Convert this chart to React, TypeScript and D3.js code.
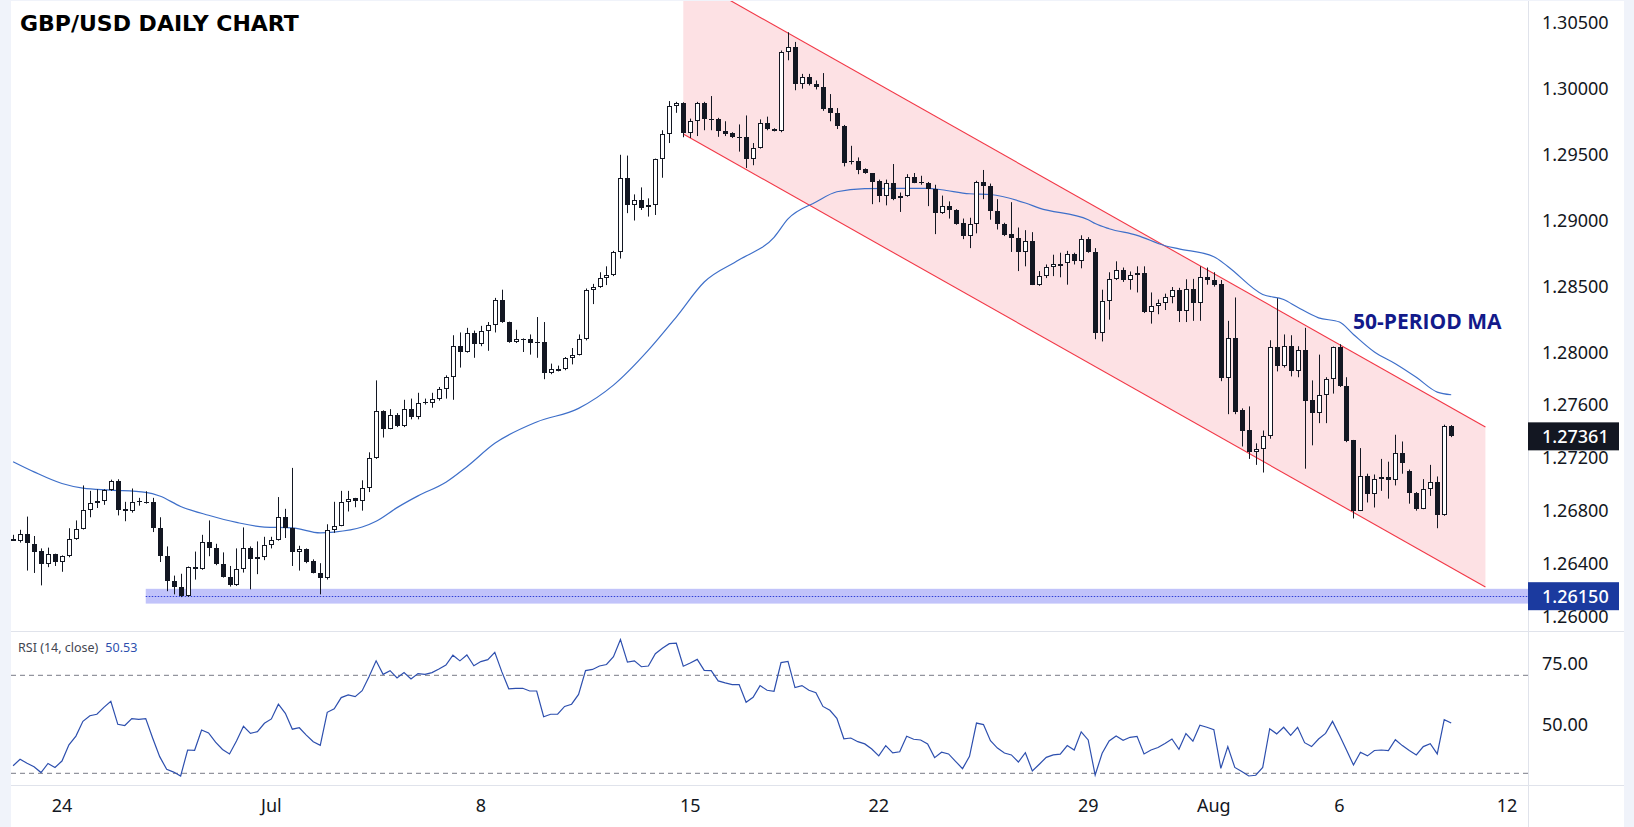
import * as d3 from "d3";
import React from "react";

// GBP/USD 4h candles, 21 Jun - 8 Aug 2024
const opens = [
  1.26577, 1.26565, 1.26624, 1.26547, 1.26494, 1.26394, 1.26468, 1.26409, 1.26453, 1.26583,
  1.26659, 1.26801, 1.26854, 1.26871, 1.26954, 1.27022, 1.26812, 1.26795, 1.26868, 1.26865,
  1.26865, 1.26665, 1.26453, 1.26267, 1.26217, 1.26152, 1.2637, 1.26356, 1.26562, 1.26518,
  1.26394, 1.26297, 1.26232, 1.26359, 1.26512, 1.26435, 1.26447, 1.26535, 1.26577, 1.26748,
  1.26665, 1.26488, 1.26506, 1.26418, 1.26329, 1.26291, 1.2665, 1.26683, 1.2686, 1.26892,
  1.26874, 1.26969, 1.27195, 1.27552, 1.2742, 1.2752, 1.2744, 1.27567, 1.27508, 1.2762,
  1.27617, 1.27647, 1.2772, 1.27809, 1.28044, 1.28, 1.28142, 1.28059, 1.28156, 1.28204,
  1.28392, 1.28227, 1.28074, 1.28097, 1.28097, 1.28074, 1.28074, 1.27838, 1.27862, 1.27868,
  1.27956, 1.27977, 1.28097, 1.28472, 1.28492, 1.2856, 1.28581, 1.28758, 1.29317, 1.29111,
  1.2915, 1.29099, 1.29111, 1.29459, 1.2965, 1.29866, 1.29886, 1.29656, 1.29748, 1.29886,
  1.29768, 1.29768, 1.29671, 1.29656, 1.2963, 1.2963, 1.29465, 1.29547, 1.29733, 1.29686,
  1.29677, 1.30269, 1.30308, 1.30031, 1.30084, 1.30033, 1.30004, 1.29848, 1.29812, 1.29715,
  1.29447, 1.2945, 1.29388, 1.29353, 1.29294, 1.29179, 1.29282, 1.29164, 1.29182, 1.29323,
  1.29288, 1.29282, 1.29238, 1.29055, 1.29105, 1.29076, 1.28979, 1.28875, 1.28967, 1.29288,
  1.29261, 1.29067, 1.28967, 1.28896, 1.28861, 1.28758, 1.2884, 1.2851, 1.28575, 1.28643,
  1.28666, 1.28672, 1.28746, 1.28687, 1.28855, 1.28758, 1.28142, 1.28389, 1.28551, 1.28619,
  1.28545, 1.28581, 1.28595, 1.28301, 1.28345, 1.28369, 1.28413, 1.28472, 1.2831, 1.2848,
  1.28369, 1.28569, 1.28545, 1.28516, 1.27803, 1.28109, 1.27559, 1.27411, 1.27243, 1.27264,
  1.27361, 1.28035, 1.27897, 1.28044, 1.27853, 1.28015, 1.27638, 1.27537, 1.27676, 1.27794,
  1.28035, 1.27741, 1.27331, 1.26798, 1.27057, 1.26925, 1.27037, 1.27054, 1.27031, 1.27234,
  1.271, 1.26931, 1.26812, 1.2696, 1.27013, 1.26762, 1.2744,
];
const highs = [
  1.26615, 1.26653, 1.26753, 1.26606, 1.26512, 1.26518, 1.26472, 1.26459, 1.26665, 1.26724,
  1.26989, 1.26948, 1.2696, 1.2696, 1.27033, 1.27036, 1.26865, 1.26966, 1.26895, 1.26945,
  1.26895, 1.26748, 1.26527, 1.26306, 1.2632, 1.26375, 1.26488, 1.26615, 1.26724, 1.26547,
  1.26482, 1.26379, 1.26512, 1.26671, 1.26527, 1.26565, 1.266, 1.266, 1.26901, 1.26812,
  1.27122, 1.26532, 1.26512, 1.26429, 1.264, 1.26695, 1.26865, 1.26948, 1.26948, 1.26895,
  1.27028, 1.2724, 1.27785, 1.27558, 1.27567, 1.27537, 1.27638, 1.27647, 1.27691, 1.27647,
  1.27691, 1.27735, 1.27823, 1.28127, 1.28148, 1.28183, 1.28162, 1.28198, 1.28227, 1.2841,
  1.28472, 1.2823, 1.28168, 1.28103, 1.28133, 1.28265, 1.28227, 1.27912, 1.27897, 1.27962,
  1.2803, 1.28133, 1.28481, 1.28516, 1.28604, 1.28649, 1.28766, 1.29494, 1.29488, 1.29194,
  1.29247, 1.29164, 1.29465, 1.2968, 1.29901, 1.29895, 1.29892, 1.29768, 1.29895, 1.29895,
  1.29939, 1.29774, 1.29748, 1.29665, 1.29724, 1.29792, 1.29583, 1.29762, 1.29783, 1.29695,
  1.30284, 1.30422, 1.30349, 1.30107, 1.30107, 1.30057, 1.30113, 1.29954, 1.29848, 1.2972,
  1.29562, 1.29474, 1.29391, 1.29356, 1.29306, 1.29306, 1.29424, 1.29208, 1.29347, 1.29356,
  1.29335, 1.29288, 1.29267, 1.29185, 1.29141, 1.29082, 1.29011, 1.29017, 1.29297, 1.29379,
  1.29276, 1.29158, 1.28979, 1.29135, 1.28943, 1.28923, 1.28908, 1.28613, 1.28663, 1.28737,
  1.28752, 1.28766, 1.28752, 1.28884, 1.2887, 1.28787, 1.28472, 1.28604, 1.28687, 1.2864,
  1.2861, 1.28649, 1.28649, 1.28451, 1.28398, 1.28442, 1.28492, 1.28486, 1.28551, 1.28554,
  1.28649, 1.2864, 1.28604, 1.28545, 1.28236, 1.28413, 1.27573, 1.27588, 1.27308, 1.27405,
  1.28089, 1.28407, 1.28133, 1.28127, 1.28044, 1.28183, 1.27785, 1.2798, 1.27809, 1.28041,
  1.28059, 1.27809, 1.27334, 1.27272, 1.27078, 1.27072, 1.2719, 1.27169, 1.27373, 1.27322,
  1.2711, 1.26939, 1.27037, 1.27145, 1.27057, 1.27449, 1.27446,
];
const lows = [
  1.26571, 1.26556, 1.26344, 1.26326, 1.26232, 1.2637, 1.26379, 1.26335, 1.26445, 1.26577,
  1.26655, 1.26748, 1.26818, 1.26842, 1.26948, 1.26762, 1.26718, 1.26783, 1.26836, 1.26851,
  1.26636, 1.26409, 1.26188, 1.26164, 1.26143, 1.26145, 1.26276, 1.2635, 1.26453, 1.26385,
  1.26291, 1.26223, 1.26228, 1.26329, 1.26202, 1.26317, 1.26423, 1.26512, 1.26571, 1.26591,
  1.26379, 1.26344, 1.264, 1.26323, 1.26164, 1.26276, 1.2663, 1.2668, 1.26792, 1.26824,
  1.26798, 1.26939, 1.2719, 1.27352, 1.27415, 1.27431, 1.27431, 1.2749, 1.2749, 1.27602,
  1.27578, 1.27632, 1.27647, 1.27638, 1.27882, 1.27995, 1.27956, 1.28044, 1.28009, 1.28148,
  1.28221, 1.2807, 1.28068, 1.28, 1.2798, 1.27956, 1.27794, 1.27832, 1.27853, 1.27862,
  1.27906, 1.27974, 1.28088, 1.28363, 1.28486, 1.28507, 1.28575, 1.28708, 1.29052, 1.28996,
  1.29076, 1.29026, 1.29038, 1.2932, 1.29583, 1.29812, 1.29627, 1.29621, 1.29636, 1.2968,
  1.2968, 1.2963, 1.29636, 1.29621, 1.29518, 1.29394, 1.29415, 1.29541, 1.2968, 1.29671,
  1.29665, 1.3021, 1.29983, 1.29995, 1.30019, 1.29989, 1.29827, 1.29748, 1.29689, 1.29406,
  1.29421, 1.29347, 1.2935, 1.2912, 1.29135, 1.29111, 1.2915, 1.29061, 1.29176, 1.29279,
  1.29267, 1.29105, 1.28893, 1.29046, 1.29011, 1.28964, 1.28855, 1.28787, 1.28899, 1.29158,
  1.29002, 1.28928, 1.28878, 1.28758, 1.28613, 1.28649, 1.28507, 1.28501, 1.2856, 1.28575,
  1.28566, 1.2851, 1.28663, 1.28634, 1.28752, 1.28097, 1.2808, 1.28245, 1.28545, 1.28531,
  1.28472, 1.28451, 1.28295, 1.28215, 1.28286, 1.28318, 1.28369, 1.28227, 1.28227, 1.28236,
  1.28236, 1.2851, 1.28495, 1.27779, 1.27529, 1.27529, 1.27284, 1.2719, 1.27145, 1.27087,
  1.27343, 1.27853, 1.27882, 1.27815, 1.27809, 1.27116, 1.27293, 1.27461, 1.27461, 1.27685,
  1.27735, 1.27317, 1.26739, 1.26795, 1.2686, 1.26822, 1.26948, 1.26889, 1.26989, 1.27078,
  1.26851, 1.26798, 1.26809, 1.2691, 1.26665, 1.26759, 1.27355,
];
const closes = [
  1.2658, 1.26624, 1.26556, 1.26488, 1.26394, 1.26468, 1.26409, 1.26453, 1.26583, 1.26659,
  1.26801, 1.26854, 1.26871, 1.26954, 1.27022, 1.26806, 1.26798, 1.26865, 1.2686, 1.2686,
  1.26665, 1.26453, 1.26267, 1.26217, 1.26152, 1.2637, 1.26356, 1.26562, 1.26518, 1.26394,
  1.26297, 1.26232, 1.26359, 1.26512, 1.26435, 1.26447, 1.26535, 1.26577, 1.26748, 1.26665,
  1.26488, 1.26506, 1.26409, 1.26329, 1.26291, 1.2665, 1.26683, 1.2686, 1.26889, 1.26874,
  1.26969, 1.27195, 1.27552, 1.2742, 1.2752, 1.2744, 1.27567, 1.27508, 1.27617, 1.27611,
  1.27647, 1.2772, 1.27809, 1.28044, 1.28, 1.28142, 1.28059, 1.28156, 1.28204, 1.28392,
  1.28227, 1.28074, 1.28097, 1.28092, 1.28068, 1.28068, 1.27838, 1.27868, 1.27868, 1.27956,
  1.27977, 1.28097, 1.28472, 1.28492, 1.2856, 1.28581, 1.28758, 1.29317, 1.29111, 1.2915,
  1.2909, 1.29111, 1.29459, 1.2965, 1.29866, 1.29886, 1.29656, 1.29748, 1.29886, 1.29762,
  1.29762, 1.29671, 1.2965, 1.29627, 1.29627, 1.29465, 1.29547, 1.29733, 1.29686, 1.29677,
  1.30269, 1.30308, 1.30031, 1.30084, 1.30028, 1.30004, 1.29842, 1.29807, 1.29709, 1.29435,
  1.29438, 1.29382, 1.29353, 1.29288, 1.29179, 1.29282, 1.29158, 1.29182, 1.29323, 1.29282,
  1.29282, 1.29232, 1.29055, 1.29105, 1.29076, 1.28973, 1.28875, 1.28967, 1.29288, 1.29261,
  1.29067, 1.28967, 1.2889, 1.28861, 1.28758, 1.2884, 1.2851, 1.28575, 1.28643, 1.28663,
  1.28669, 1.28746, 1.28687, 1.28855, 1.28758, 1.28142, 1.28389, 1.28551, 1.28619, 1.28545,
  1.28581, 1.28595, 1.28301, 1.28345, 1.28369, 1.28413, 1.28472, 1.2831, 1.2848, 1.28369,
  1.28566, 1.28545, 1.2851, 1.27803, 1.28109, 1.27544, 1.27405, 1.27243, 1.27264, 1.27361,
  1.28035, 1.27897, 1.28044, 1.27853, 1.28015, 1.27632, 1.27537, 1.27676, 1.27794, 1.28035,
  1.27741, 1.27322, 1.26798, 1.27057, 1.26925, 1.27037, 1.27054, 1.27031, 1.27234, 1.2716,
  1.26931, 1.26812, 1.2696, 1.27013, 1.26762, 1.2744, 1.27361,
];

// RSI(14) per candle
const rsiValues = [
  33.1, 35.7, 34.1, 32.7, 30.3, 34.0, 32.4, 35.0, 41.6, 45.2,
  51.2, 53.5, 54.1, 56.9, 59.4, 50.0, 49.5, 52.3, 52.0, 52.3,
  44.3, 36.8, 31.6, 30.5, 28.9, 39.5, 39.4, 47.7, 46.5, 42.7,
  39.7, 37.9, 43.2, 49.2, 46.3, 47.0, 50.4, 52.2, 58.2, 54.5,
  48.0, 48.6, 45.6, 42.9, 41.4, 54.9, 56.3, 60.9, 62.0, 61.3,
  63.7, 69.5, 75.9, 70.4, 71.9, 68.9, 71.1, 68.5, 70.7, 70.4,
  71.1, 72.6, 74.2, 78.2, 75.9, 78.3, 73.9, 75.6, 76.4, 79.4,
  71.5, 64.5, 64.7, 64.7, 63.6, 63.6, 53.1, 54.1, 54.1, 57.3,
  58.2, 62.2, 71.9, 72.4, 73.8, 74.4, 77.6, 84.6, 75.4, 75.9,
  73.5, 73.8, 78.8, 81.0, 82.9, 83.1, 73.7, 75.0, 76.5, 72.0,
  71.9, 67.7, 66.9, 66.2, 66.2, 59.0, 61.0, 65.8, 63.9, 63.5,
  75.2, 75.7, 65.0, 65.8, 63.9, 62.9, 57.3, 55.7, 52.4, 44.1,
  44.4, 42.9, 42.0, 39.9, 37.1, 41.3, 38.3, 38.8, 45.1, 43.9,
  43.6, 42.0, 36.4, 38.6, 37.9, 34.9, 31.9, 36.9, 50.5, 49.9,
  43.3, 40.3, 38.3, 37.5, 34.6, 38.4, 31.0, 33.7, 36.5, 37.5,
  37.8, 41.3, 39.5, 46.9, 43.6, 29.3, 38.2, 43.2, 45.2, 43.5,
  44.7, 45.1, 37.9, 39.5, 40.5, 42.2, 44.0, 39.8, 46.2, 43.1,
  49.6, 48.8, 47.8, 32.0, 40.9, 32.4, 30.7, 28.9, 29.2, 32.4,
  48.2, 46.1, 48.8, 45.5, 48.8, 42.5, 40.9, 44.0, 46.3, 51.2,
  45.5, 39.5, 33.4, 38.6, 37.1, 39.3, 39.5, 39.3, 43.7, 41.3,
  39.3, 37.5, 40.9, 42.1, 37.9, 51.9, 50.53,
];

// 50-period moving average, sampled along the line
const maIndex = [
  0, 3, 7, 10, 14, 19, 21, 24, 28, 32, 36, 40, 44, 46, 50, 52, 55, 58, 62, 65,
  69, 75, 81, 86, 91, 95, 99, 104, 109, 111, 115, 118, 122, 127, 131, 133, 137, 140, 145, 147,
  154, 155, 157, 161, 165, 167, 172, 174, 179, 182, 184, 187, 190, 192, 195, 198, 201, 204, 206,
];
const maValues = [
  1.27169, 1.27092, 1.27004, 1.26969, 1.26954, 1.26936, 1.26909, 1.2683, 1.26763, 1.26709,
  1.26674, 1.26668, 1.2663, 1.26636, 1.26674, 1.26718, 1.26821, 1.2691, 1.27013, 1.27131,
  1.27308, 1.2747, 1.27573, 1.27749, 1.28014, 1.28265, 1.2853, 1.28698, 1.28869, 1.29008,
  1.29136, 1.29214, 1.29238, 1.2924, 1.2924, 1.29229, 1.29199, 1.29193, 1.29129, 1.2909,
  1.29002, 1.28973, 1.28934, 1.28884, 1.28805, 1.28781, 1.28722, 1.28648, 1.28436, 1.28398,
  1.28339, 1.28259, 1.28227, 1.28133, 1.28, 1.27911, 1.27808, 1.27696, 1.27676,
];

const priceTicks = [1.305, 1.3, 1.295, 1.29, 1.285, 1.28, 1.276, 1.272, 1.268, 1.264, 1.26];
const rsiTicks = [75, 50];
const rsiBands = [70, 30];
const timeTickIndex = [7, 37, 67, 97, 124, 154, 172, 190, 214];
const timeTickLabel = ["24", "Jul", "8", "15", "22", "29", "Aug", "6", "12"];

// drawings
const channelIndex = [96, 210.9];
const channelUpper = [1.30864, 1.27432];
const channelLower = [1.29652, 1.2622];
const supportLevel = 1.2615;
const supportStartIndex = 19;
const lastPrice = 1.27361;
const rsiLast = 50.53;

const W = 1634;
const H = 827;
const LEFT = 11;
const AXIS_X = 1528;
const RIGHT = 1624;
const PRICE_TOP = 1;
const PANE_SPLIT = 631;
const RSI_BOTTOM = 785;

const INK = "#131722";
const AXIS_FONT = "'Noto Sans', 'Open Sans', sans-serif";

export default function App() {
  const svgRef = React.useRef<SVGSVGElement | null>(null);

  React.useEffect(() => {
    const svg = d3.select(svgRef.current);
    svg.selectAll("*").remove();

    const x = d3.scaleLinear().domain([-0.3, 217]).range([LEFT, AXIS_X]);
    const y = d3.scaleLinear().domain([1.26, 1.305]).range([616, 22]);
    const ry = d3.scaleLinear().domain([30, 70]).range([773.3, 675.3]);

    svg.append("rect").attr("width", W).attr("height", H).attr("fill", "#f0f3fa");
    svg
      .append("rect")
      .attr("x", LEFT)
      .attr("y", PRICE_TOP)
      .attr("width", RIGHT - LEFT)
      .attr("height", H - PRICE_TOP)
      .attr("fill", "#ffffff");

    const defs = svg.append("defs");
    defs
      .append("clipPath")
      .attr("id", "price-clip")
      .append("rect")
      .attr("x", LEFT)
      .attr("y", PRICE_TOP)
      .attr("width", AXIS_X - LEFT)
      .attr("height", PANE_SPLIT - PRICE_TOP);

    const price = svg.append("g").attr("clip-path", "url(#price-clip)");

    // descending channel
    const [c0, c1] = channelIndex;
    price
      .append("path")
      .attr(
        "d",
        `M${x(c0)},${y(channelUpper[0])}L${x(c1)},${y(channelUpper[1])}L${x(c1)},${y(channelLower[1])}L${x(c0)},${y(channelLower[0])}Z`,
      )
      .attr("fill", "#fde1e4");
    [channelUpper, channelLower].forEach((edge) => {
      price
        .append("line")
        .attr("x1", x(c0))
        .attr("y1", y(edge[0]))
        .attr("x2", x(c1))
        .attr("y2", y(edge[1]))
        .attr("stroke", "#f23645")
        .attr("stroke-width", 1.1);
    });

    // support band
    const bandHalf = 0.00056;
    price
      .append("rect")
      .attr("x", x(supportStartIndex))
      .attr("y", y(supportLevel + bandHalf))
      .attr("width", AXIS_X - x(supportStartIndex))
      .attr("height", y(supportLevel - bandHalf) - y(supportLevel + bandHalf))
      .attr("fill", "#c1c3fa");
    price
      .append("line")
      .attr("x1", x(supportStartIndex))
      .attr("x2", AXIS_X)
      .attr("y1", Math.round(y(supportLevel)) + 0.5)
      .attr("y2", Math.round(y(supportLevel)) + 0.5)
      .attr("stroke", "#2f3fd6")
      .attr("stroke-dasharray", "1.5,1.5");

    // moving average
    const maLine = d3
      .line<number>()
      .x((_, i) => x(maIndex[i]))
      .y((d) => y(d))
      .curve(d3.curveMonotoneX);
    price
      .append("path")
      .attr("d", maLine(maValues))
      .attr("fill", "none")
      .attr("stroke", "#3e6fc9")
      .attr("stroke-width", 1.2);

    // candles
    const candles = price.append("g");
    opens.forEach((o, i) => {
      const c = closes[i];
      const cx = Math.round(x(i)) + 0.5;
      candles
        .append("line")
        .attr("x1", cx)
        .attr("x2", cx)
        .attr("y1", y(highs[i]))
        .attr("y2", y(lows[i]))
        .attr("stroke", INK)
        .attr("stroke-width", 1);
      const top = Math.round(y(Math.max(o, c)));
      const bottom = Math.round(y(Math.min(o, c)));
      const h = Math.max(1, bottom - top);
      if (c >= o) {
        candles
          .append("rect")
          .attr("x", cx - 2)
          .attr("y", top + 0.5)
          .attr("width", 4)
          .attr("height", Math.max(1, h - 1))
          .attr("fill", "#ffffff")
          .attr("stroke", INK)
          .attr("stroke-width", 1);
      } else {
        candles
          .append("rect")
          .attr("x", cx - 2.5)
          .attr("y", top)
          .attr("width", 5)
          .attr("height", h)
          .attr("fill", INK);
      }
    });

    svg
      .append("text")
      .attr("x", 1353)
      .attr("y", 329)
      .attr("font-family", "'Open Sans', sans-serif")
      .attr("font-weight", 700)
      .attr("font-size", 21)
      .attr("fill", "#131a8a")
      .text("50-PERIOD MA");

    svg
      .append("text")
      .attr("x", 20)
      .attr("y", 31)
      .attr("font-family", "'DejaVu Sans', sans-serif")
      .attr("font-weight", 700)
      .attr("font-size", 22)
      .attr("fill", "#000000")
      .text("GBP/USD DAILY CHART");

    // separators
    const sep = "#e0e3eb";
    [PANE_SPLIT, RSI_BOTTOM].forEach((yy) => {
      svg
        .append("line")
        .attr("x1", LEFT)
        .attr("x2", RIGHT)
        .attr("y1", yy + 0.5)
        .attr("y2", yy + 0.5)
        .attr("stroke", sep);
    });
    svg
      .append("line")
      .attr("x1", AXIS_X + 0.5)
      .attr("x2", AXIS_X + 0.5)
      .attr("y1", PRICE_TOP)
      .attr("y2", H)
      .attr("stroke", sep);

    // price axis
    const axis = svg.append("g").attr("font-family", AXIS_FONT).attr("font-size", 18).attr("fill", INK);
    priceTicks.forEach((t) => {
      axis
        .append("text")
        .attr("x", 1542)
        .attr("y", y(t) + 6.5)
        .text(d3.format(".5f")(t));
    });

    const tagBox = (value: number, fill: string) => {
      const cy = y(value);
      svg
        .append("rect")
        .attr("x", AXIS_X)
        .attr("y", cy - 14)
        .attr("width", 91)
        .attr("height", 28)
        .attr("fill", fill);
      svg
        .append("text")
        .attr("x", 1542)
        .attr("y", cy + 6.5)
        .attr("font-family", AXIS_FONT)
        .attr("font-size", 18)
        .attr("font-weight", 500)
        .attr("fill", "#ffffff")
        .text(d3.format(".5f")(value));
    };
    tagBox(lastPrice, INK);
    tagBox(supportLevel, "#1b3a9f");

    // RSI pane
    rsiBands.forEach((b) => {
      svg
        .append("line")
        .attr("x1", LEFT)
        .attr("x2", AXIS_X)
        .attr("y1", ry(b))
        .attr("y2", ry(b))
        .attr("stroke", "#787b86")
        .attr("stroke-dasharray", "5,4");
    });
    const rsiLine = d3
      .line<number>()
      .x((_, i) => x(i))
      .y((d) => ry(d));
    svg
      .append("path")
      .attr("d", rsiLine(rsiValues))
      .attr("fill", "none")
      .attr("stroke", "#2d4fae")
      .attr("stroke-width", 1.2);

    const rsiLabel = svg
      .append("text")
      .attr("x", 18)
      .attr("y", 651.5)
      .attr("font-family", AXIS_FONT)
      .attr("font-size", 12.5);
    rsiLabel.append("tspan").attr("fill", "#434651").text("RSI (14, close)");
    rsiLabel.append("tspan").attr("dx", 7).attr("fill", "#2d4fae").text(rsiLast.toFixed(2));

    rsiTicks.forEach((t) => {
      axis
        .append("text")
        .attr("x", 1542)
        .attr("y", ry(t) + 6.5)
        .text(t.toFixed(2));
    });

    // time axis
    timeTickIndex.forEach((ti, k) => {
      axis
        .append("text")
        .attr("x", x(ti))
        .attr("y", 812)
        .attr("text-anchor", "middle")
        .text(timeTickLabel[k]);
    });
  }, []);

  return (
    <div style={{ position: "absolute", left: 0, top: 0 }}>
      <svg ref={svgRef} width={W} height={H} />
    </div>
  );
}
